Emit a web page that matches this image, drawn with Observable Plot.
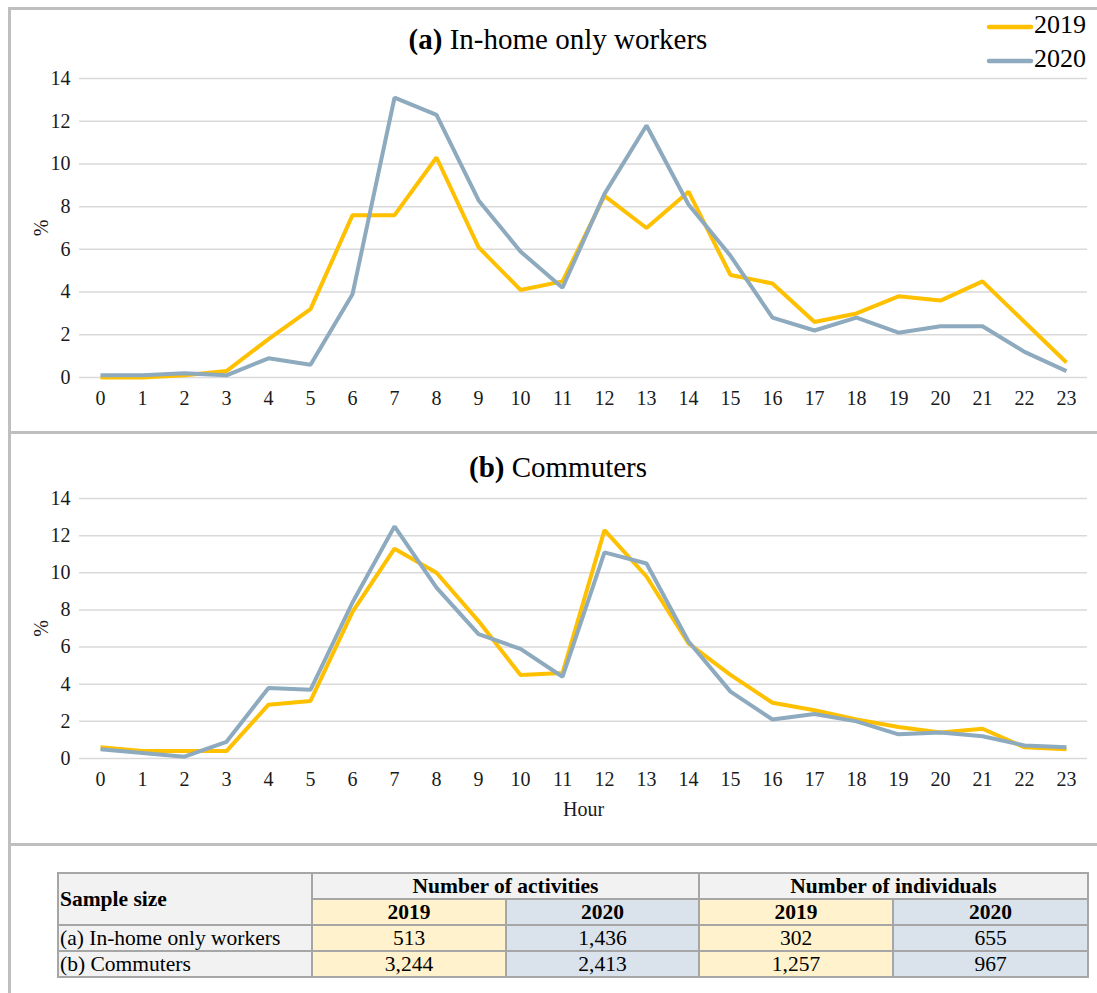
<!DOCTYPE html>
<html><head><meta charset="utf-8">
<script src="https://cdn.jsdelivr.net/npm/d3@7"></script>
<script src="https://cdn.jsdelivr.net/npm/@observablehq/plot@0.6"></script>
<style>
html,body{margin:0;padding:0;background:#fff;}
#root{position:relative;width:1097px;height:993px;overflow:hidden;font-family:"Liberation Serif","Times New Roman",serif;color:#000;}
.hl{position:absolute;background:#bfbfbf;}
.panel{position:absolute;left:0;}
.title{position:absolute;left:0;width:1116px;text-align:center;font-size:29px;line-height:29px;white-space:nowrap;}
.leg{position:absolute;left:986px;font-size:26px;line-height:26px;white-space:nowrap;}
.leg svg{vertical-align:middle;}
table{position:absolute;left:57px;top:872px;border-collapse:collapse;font-size:21.5px;line-height:22px;table-layout:fixed;}
tr{height:26px;}
td{border:2px solid #a6a6a6;padding:1px 2px;text-align:center;white-space:nowrap;}
td.lab{text-align:left;background:#f2f2f2;padding-left:1px;}
td.h{background:#f2f2f2;font-weight:bold;}
td.y19{background:#fff2cc;}
td.y20{background:#dae3eb;}
</style>
</head><body>
<div id="root">
  <div class="hl" style="left:8px;top:8px;width:3px;height:985px;"></div>
  <div class="hl" style="left:8px;top:7px;width:1089px;height:3px;"></div>
  <div class="hl" style="left:8px;top:431px;width:1089px;height:3px;"></div>
  <div class="hl" style="left:8px;top:843px;width:1089px;height:3px;"></div>
  <div id="top" class="panel" style="top:0;"></div>
  <div id="bottom" class="panel" style="top:433px;"></div>
  <div class="title" style="top:25px;"><b>(a)</b> In-home only workers</div>
  <div class="title" style="top:453px;"><b>(b)</b> Commuters</div>
  <div id="legend"></div>
  <div id="tbl"></div>
</div>
<script>
// ---- data ----
const hours = [0,1,2,3,4,5,6,7,8,9,10,11,12,13,14,15,16,17,18,19,20,21,22,23];
const years = ["2019", "2020"];
const yTicks = [0,2,4,6,8,10,12,14];

const inHome2019 = [0.0,0.0,0.1,0.3,1.8,3.2,7.6,7.6,10.3,6.1,4.1,4.5,8.5,7.0,8.7,4.8,4.4,2.6,3.0,3.8,3.6,4.5,2.6,0.7];
const inHome2020 = [0.1,0.1,0.2,0.1,0.9,0.6,3.9,13.1,12.3,8.3,5.9,4.2,8.6,11.8,8.1,5.7,2.8,2.2,2.8,2.1,2.4,2.4,1.2,0.3];
const commuters2019 = [0.6,0.4,0.4,0.4,2.9,3.1,7.9,11.3,10.0,7.4,4.5,4.6,12.3,9.8,6.2,4.5,3.0,2.6,2.1,1.7,1.4,1.6,0.6,0.5];
const commuters2020 = [0.5,0.3,0.1,0.9,3.8,3.7,8.4,12.5,9.2,6.7,5.9,4.4,11.1,10.5,6.3,3.6,2.1,2.4,2.0,1.3,1.4,1.2,0.7,0.6];

const tableHeader = "Sample size";
const groupHeaders = ["Number of activities", "Number of individuals"];
const rowLabels = ["(a) In-home only workers", "(b) Commuters"];
const activities2019 = ["513", "3,244"];
const activities2020 = ["1,436", "2,413"];
const individuals2019 = ["302", "1,257"];
const individuals2020 = ["655", "967"];

const colors = ["#ffc000", "#8eaabe"];

// ---- charts ----
function rows(a, b) {
  return [
    ...hours.map((h, i) => ({hour: h, value: a[i], year: years[0]})),
    ...hours.map((h, i) => ({hour: h, value: b[i], year: years[1]}))
  ];
}

function panel(data, opts) {
  return Plot.plot({
    width: 1097,
    height: opts.height,
    marginLeft: 79,
    marginRight: 10,
    marginTop: opts.marginTop,
    marginBottom: opts.marginBottom,
    style: {fontFamily: '"Liberation Serif","Times New Roman",serif', color: "#1a1a1a", background: "transparent", overflow: "visible"},
    x: {domain: [-0.5, 23.5]},
    y: {domain: [0, 14]},
    color: {domain: years, range: colors},
    marks: [
      Plot.gridY(yTicks, {stroke: "#d9d9d9", strokeOpacity: 1, strokeWidth: 1.5}),
      Plot.axisY(yTicks, {tickSize: 0, tickPadding: 9, fontSize: 20, label: "%", labelAnchor: "center", labelArrow: "none", labelOffset: 46}),
      Plot.axisX(hours, {tickSize: 0, tickPadding: 13, fontSize: 20, label: opts.xlabel, labelAnchor: "center", labelArrow: "none", labelOffset: 57}),
      Plot.lineY(data, {x: "hour", y: "value", stroke: "year", strokeWidth: 4, strokeLinejoin: "miter", strokeLinecap: "butt"})
    ]
  });
}

document.getElementById("top").append(panel(rows(inHome2019, inHome2020), {height: 430, marginTop: 78, marginBottom: 53, xlabel: null}));
document.getElementById("bottom").append(panel(rows(commuters2019, commuters2020), {height: 410, marginTop: 65, marginBottom: 85, xlabel: "Hour"}));

// ---- legend ----
const legend = document.getElementById("legend");
years.forEach((y, i) => {
  const d = document.createElement("div");
  d.className = "leg";
  d.style.top = (12 + i * 34) + "px";
  d.innerHTML = `<svg width="48" height="10"><line x1="3" y1="5" x2="45" y2="5" stroke="${colors[i]}" stroke-width="4.5" stroke-linecap="round"/></svg>${y}`;
  legend.append(d);
});

// ---- table ----
let html = `<table><colgroup><col style="width:254px"><col style="width:194px"><col style="width:193px"><col style="width:194px"><col style="width:195px"></colgroup>`;
html += `<tr><td class="lab" rowspan="2" style="font-weight:bold">${tableHeader}</td><td class="h" colspan="2">${groupHeaders[0]}</td><td class="h" colspan="2">${groupHeaders[1]}</td></tr>`;
html += `<tr><td class="h y19">${years[0]}</td><td class="h y20">${years[1]}</td><td class="h y19">${years[0]}</td><td class="h y20">${years[1]}</td></tr>`;
rowLabels.forEach((r, i) => {
  html += `<tr><td class="lab">${r}</td><td class="y19">${activities2019[i]}</td><td class="y20">${activities2020[i]}</td><td class="y19">${individuals2019[i]}</td><td class="y20">${individuals2020[i]}</td></tr>`;
});
html += `</table>`;
document.getElementById("tbl").innerHTML = html;
</script>
</body></html>
